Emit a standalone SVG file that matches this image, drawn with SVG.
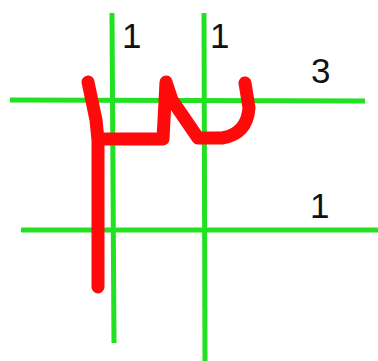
<svg xmlns="http://www.w3.org/2000/svg" width="378" height="361" viewBox="0 0 378 361">
<style>
.g{stroke:#22e022;stroke-width:5;fill:none;stroke-linecap:butt}
.r{stroke:#ff0a0a;stroke-width:13;fill:none;stroke-linecap:round;stroke-linejoin:round}
.t{font-family:"Liberation Sans",Arial,sans-serif;font-size:35px;fill:#111}
</style>
<rect width="378" height="361" fill="#fff"/>
<g id="grid">
<line class="g" x1="10" y1="100" x2="365" y2="101"/>
<line class="g" x1="21" y1="230" x2="378" y2="230"/>
<polyline class="g" points="112,13 113,180 114,343"/>
<line class="g" x1="204" y1="13" x2="205" y2="361"/>
</g>
<g id="stroke">
<path class="r" d="M88,82 L96,120 L98,140 L98,287"/>
<path class="r" d="M100,139 L163,139 L166,82 L172,100 L198,138 L222,138 Q247,134 249,108 L245,83"/>
</g>
<g id="labels">
<text class="t" x="122" y="48">1</text>
<text class="t" x="210" y="48">1</text>
<text class="t" x="311" y="83">3</text>
<text class="t" x="310" y="218">1</text>
</g>
</svg>
